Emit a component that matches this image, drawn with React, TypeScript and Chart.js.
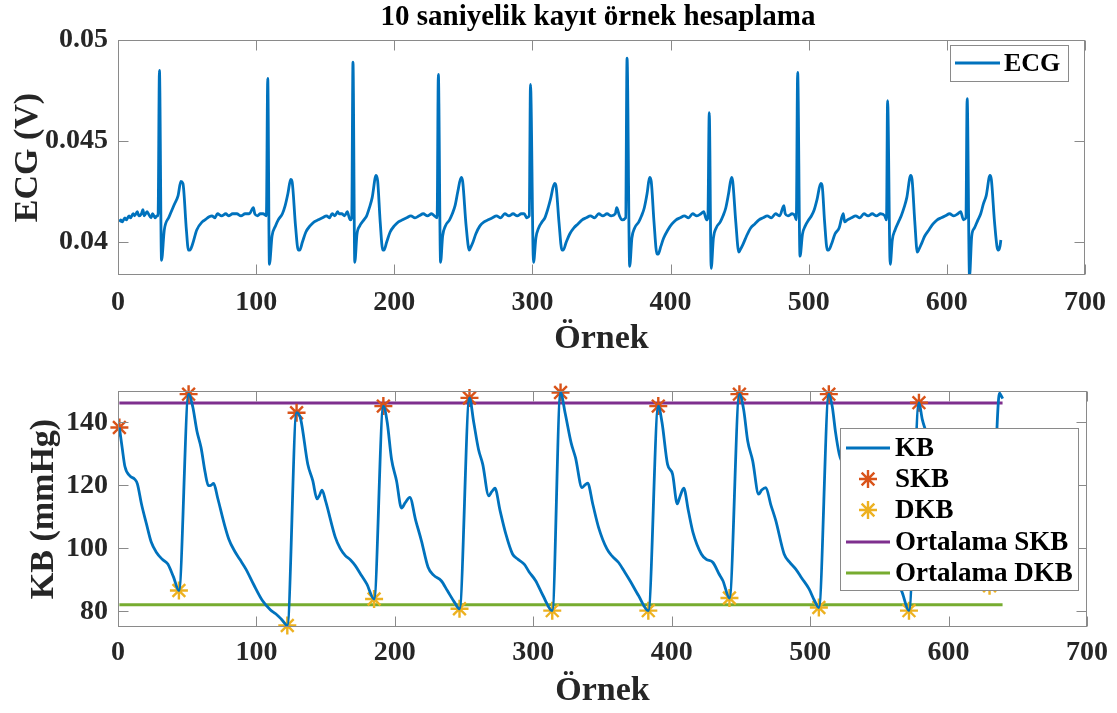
import React, { useEffect, useRef } from "react";
import { Chart, registerables } from "chart.js";

Chart.register(...registerables);

const FONT = "'Liberation Serif', 'Times New Roman', Times, serif";

// ---- text ----
const chartTitle = "10 saniyelik kayıt örnek hesaplama";
const xAxisLabel = "Örnek";
const ecgAxisLabel = "ECG (V)";
const kbAxisLabel = "KB (mmHg)";
const ecgLegend = ["ECG"];
const kbLegend = ["KB", "SKB", "DKB", "Ortalama SKB", "Ortalama DKB"];

// ---- ticks ----
const xTicks = [0, 100, 200, 300, 400, 500, 600, 700];
const ecgTicks = [0.04, 0.045, 0.05];
const kbTicks = [80, 100, 120, 140];

// ---- ECG trace: [sample, volts] ----
const ecgTrace: [number, number][] = [
  [1, 0.041], [2, 0.0411], [3, 0.041], [5, 0.0412], [6, 0.0411], [8, 0.0413], [9, 0.0412], [11, 0.0414],
  [12, 0.0413], [14, 0.0415], [15, 0.0413], [17, 0.0414], [18, 0.0416], [19, 0.0413], [21, 0.0415],
  [22, 0.0414], [24, 0.0412], [25, 0.0414], [27, 0.0412], [28, 0.0413], [29, 0.0413],
  [30, 0.0485], [31.5, 0.0391], [33.5, 0.0406], [37, 0.04125], [41, 0.0419], [43.5, 0.0423], [45.5, 0.043],
  [47, 0.0429], [49.5, 0.0406], [51, 0.0396], [52, 0.0396], [54, 0.0399], [57, 0.0406], [61, 0.041],
  [63, 0.0411], [66, 0.04125], [68, 0.0413], [70, 0.0412], [72, 0.0414], [75, 0.0413], [78, 0.0414],
  [80, 0.0413], [83, 0.0414], [86, 0.0414], [89, 0.0413], [92, 0.0414], [95, 0.0414], [98, 0.0417],
  [99, 0.0414], [101, 0.0413], [103, 0.0414], [105, 0.0414], [107.4, 0.0413],
  [108.4, 0.0481], [109.6, 0.0389], [111.5, 0.0403], [114, 0.0408], [116, 0.0411], [119, 0.0414],
  [121, 0.0418], [123, 0.0424], [125, 0.0431], [126, 0.043], [128.5, 0.0408], [130.5, 0.0396],
  [131.5, 0.0396], [133.5, 0.04], [136, 0.0405], [139, 0.0408], [142, 0.041], [145, 0.0411], [148, 0.0412],
  [151, 0.0413], [153, 0.0412], [155, 0.0414], [157, 0.0413], [159, 0.0415], [160, 0.0414], [162, 0.0414],
  [164, 0.0413], [166, 0.0415], [168, 0.0411], [169.2, 0.0412],
  [170.1, 0.0489], [171.4, 0.039], [173, 0.0404], [175, 0.0408], [178, 0.0411], [180, 0.0413], [182, 0.0417],
  [184, 0.0422], [186.8, 0.0433], [188, 0.043], [189.8, 0.041], [191.7, 0.0396], [192.5, 0.0396],
  [194.5, 0.04], [197, 0.0405], [200, 0.0408], [203, 0.041], [206, 0.0411], [209, 0.0412], [212, 0.0413],
  [215, 0.0412], [218, 0.0413], [221, 0.0414], [224, 0.0413], [227, 0.0414], [229, 0.0413], [231, 0.0412],
  [231.9, 0.0483], [233.5, 0.039], [235, 0.0403], [237, 0.0408], [240, 0.0411], [242, 0.0414], [244, 0.0418],
  [246, 0.0425], [248.4, 0.0432], [249.5, 0.043], [252, 0.0408], [254.3, 0.0396], [255, 0.0397], [257, 0.04],
  [259, 0.0404], [262, 0.0408], [265, 0.041], [268, 0.0411], [271, 0.0412], [274, 0.0413], [277, 0.0412],
  [280, 0.0414], [283, 0.0413], [286, 0.0414], [289, 0.0413], [292, 0.0414], [294, 0.0414], [296, 0.0412],
  [297.7, 0.0413],
  [298.6, 0.0478], [300.8, 0.039], [302.5, 0.0402], [304.5, 0.0407], [307, 0.041], [309, 0.0412],
  [311, 0.0416], [313, 0.0421], [316, 0.0429], [317, 0.0428], [319.2, 0.041], [321.4, 0.0396],
  [322.3, 0.0396], [324.5, 0.04], [327, 0.0404], [330, 0.0407], [333, 0.0409], [336, 0.0411], [339, 0.0412],
  [342, 0.0413], [345, 0.0412], [348, 0.0414], [351, 0.0413], [354, 0.0414], [357, 0.0413], [360, 0.0414],
  [361, 0.0417], [363, 0.0413], [365, 0.0411], [367.5, 0.0412],
  [368.5, 0.0491], [370.4, 0.0388], [372, 0.0402], [374, 0.0407], [377, 0.041], [379, 0.0413], [381, 0.0417],
  [383, 0.0424], [384.8, 0.0432], [386, 0.043], [388, 0.041], [390.2, 0.0394], [391, 0.0394], [393, 0.0398],
  [395, 0.0402], [398, 0.0406], [401, 0.0409], [404, 0.0411], [407, 0.0412], [410, 0.0413], [413, 0.0412],
  [416, 0.0414], [419, 0.0413], [422, 0.0414], [424, 0.0415], [426, 0.0411], [427, 0.0412],
  [428, 0.0464], [429.4, 0.0387], [431, 0.0402], [433, 0.0407], [436, 0.041], [438, 0.0413], [440, 0.0417],
  [442, 0.0424], [444.1, 0.0432], [445, 0.043], [447.2, 0.041], [449.4, 0.0395], [450.3, 0.0396],
  [452.5, 0.0399], [455, 0.0403], [458, 0.0407], [461, 0.0409], [464, 0.0411], [467, 0.0412], [470, 0.0413],
  [473, 0.0412], [476, 0.0414], [479, 0.0413], [482, 0.0418], [483, 0.0414], [485, 0.0413], [488, 0.0414],
  [490, 0.0413], [491, 0.0411],
  [492, 0.0484], [493.7, 0.0393], [495.5, 0.0404], [497.5, 0.0408], [500, 0.0411], [502, 0.0413],
  [504, 0.0416], [506, 0.0421], [508.7, 0.0429], [509.7, 0.0428], [511.5, 0.041], [513.5, 0.0396],
  [514.3, 0.0396], [516.5, 0.0399], [519, 0.0404], [522, 0.0407], [525, 0.0414], [526, 0.041], [528, 0.0411],
  [531, 0.0412], [534, 0.0413], [537, 0.0412], [540, 0.0414], [543, 0.0413], [546, 0.0414], [549, 0.0413],
  [552, 0.0414], [555, 0.0413], [556.3, 0.0411],
  [557.1, 0.047], [559, 0.0389], [560.5, 0.0401], [562.5, 0.0406], [565, 0.041], [567, 0.0413],
  [569, 0.0417], [571, 0.0422], [573.8, 0.0433], [574.8, 0.0431], [576.8, 0.041], [578.6, 0.0395],
  [579.5, 0.0396], [581.5, 0.0399], [584, 0.0403], [587, 0.0406], [590, 0.0409], [593, 0.0411],
  [596, 0.0412], [599, 0.0413], [602, 0.0414], [605, 0.0413], [608, 0.0414], [610, 0.0415], [612, 0.0411],
  [613.8, 0.0412],
  [614.7, 0.0471], [616.4, 0.0383], [618, 0.0403], [620, 0.0407], [622.5, 0.0411], [624.5, 0.0414],
  [626.5, 0.0419], [628.5, 0.0423], [631.2, 0.0433], [632.2, 0.0431], [634.5, 0.041], [636.5, 0.0397],
  [637.5, 0.0396], [638.5, 0.0398], [639.1, 0.0401],
];

// ---- Blood pressure trace: [sample, mmHg] ----
const kbTrace: [number, number][] = [
  [1, 138.4], [3, 132], [5, 126], [8.6, 123], [12, 122], [14, 120.5], [17, 114], [20.6, 107.7], [24, 102],
  [27.8, 98.7], [32, 96.5], [36, 95], [40, 91], [44, 86.6],
  [51, 149], [54, 145], [57, 137.3], [60, 132], [63, 124], [65.3, 119.9], [67, 120], [69.1, 120.6], [72, 116],
  [76.8, 107.7], [80, 103], [84, 99.3], [88, 96.5], [92.4, 93.4], [98, 88.5], [104.3, 83.4], [110, 80.5],
  [113.9, 79.2], [118, 77.5], [122.3, 75.5],
  [129, 143.1], [132, 141], [137.1, 126.7], [140.7, 121.5], [143.8, 115.7], [145.5, 116.8], [147.4, 118.5],
  [150, 115], [157, 103.5], [160.5, 100], [164.2, 97.7], [168, 96.3], [171.4, 94.5], [176, 91.3],
  [179.7, 88.7], [185, 83.9],
  [191.7, 145.2], [194.5, 140], [197.6, 128.3], [201.2, 121.5], [204.8, 112.8], [207.5, 114.5],
  [210.8, 116.2], [215, 109], [219.2, 102.4], [224, 94], [228, 91.5], [233.5, 89.7], [238, 86.5],
  [243, 82.9], [246.7, 80.8],
  [253.9, 147.8], [257, 140], [260.4, 131.5], [263.5, 126.7], [267.8, 116.7], [270, 118], [272.3, 119.1],
  [276, 112], [280.2, 104.5], [285, 98.2], [289, 96.5], [293.4, 95], [297, 92.5], [301.7, 89.7], [307, 85],
  [313.7, 80.2],
  [319.7, 149.5], [323, 143], [327.3, 133.6], [330.5, 128.8], [335.2, 119.3], [337, 120], [339.3, 120.7],
  [343, 114], [347.2, 106.6], [353.2, 99.8], [357, 97.5], [361.6, 95.5], [366, 92.5], [369.9, 89.7],
  [376, 85], [383.1, 80.2],
  [390.3, 145.2], [393, 140], [397, 126.7], [400.6, 123.6], [404, 114.1], [406, 116.5], [408.7, 119.1],
  [412, 112], [415.4, 105], [421.4, 98.2], [425, 96.5], [429.8, 95.5], [434, 92], [437, 89.7], [441.7, 84.2],
  [448.9, 149], [452, 144], [454.9, 134.1], [458.5, 127.8], [462.8, 117.2], [465, 118.5], [468, 119.3],
  [471.5, 114], [475.2, 108.8], [481.2, 98.2], [485, 95.7], [489.6, 93.4], [494, 90.5], [499.2, 87.1],
  [503, 83.5], [506.3, 81.2],
  [513.5, 149], [516, 145], [518.3, 137], [521, 130], [524, 126], [528, 116.5], [530, 118], [533, 119],
  [536, 114], [540, 108], [546, 98.5], [550, 96], [554, 94], [558, 91], [563, 88], [566, 86.5], [571.4, 80.2],
  [578.6, 146.3], [581, 141], [585, 135], [588, 128], [591, 124], [595, 115], [597, 116.5], [600, 117.5],
  [603, 112], [607, 106], [612, 98], [616, 95.5], [620, 93.5], [624, 91], [629.6, 88.1],
  [633.2, 120], [636.8, 149.3], [638, 148.5], [639.1, 147.6],
];

// ---- SKB / DKB detections ----
const skbSamples = [1, 51, 129, 191.7, 253.9, 319.7, 390.3, 448.9, 513.5, 578.6];
const skbValues = [138.4, 149, 143.1, 145.2, 147.8, 149.5, 145.2, 149, 149, 146.3];
const dkbSamples = [44, 122.3, 185, 246.7, 313.7, 383.1, 441.7, 506.3, 571.4, 629.6];
const dkbValues = [86.6, 75.5, 83.9, 80.8, 80.2, 80.2, 84.2, 81.2, 80.2, 88.1];
const meanSKB = 146.2;
const meanDKB = 82.1;
const meanRange = [1, 639];

// ---- colours ----
const BLUE = "#0072BD";
const ORANGE = "#D95319";
const YELLOW = "#EDB120";
const PURPLE = "#7E2F8E";
const GREEN = "#77AC30";
const AXIS = "#8a8a8a";
const TEXT = "#262626";

function drawStar(ctx: CanvasRenderingContext2D, x: number, y: number, r: number, color: string) {
  ctx.save();
  ctx.strokeStyle = color;
  ctx.lineWidth = 2.4;
  ctx.beginPath();
  for (let i = 0; i < 4; i++) {
    const a = (i * Math.PI) / 4;
    ctx.moveTo(x - r * Math.cos(a), y - r * Math.sin(a));
    ctx.lineTo(x + r * Math.cos(a), y + r * Math.sin(a));
  }
  ctx.stroke();
  ctx.restore();
}

const matlabAxes = {
  id: "matlabAxes",
  afterDraw(chart: any, _args: any, opts: any) {
    const { ctx, chartArea: a, scales } = chart;
    ctx.save();
    ctx.strokeStyle = AXIS;
    ctx.lineWidth = 1;
    const L = Math.round(a.left) + 0.5;
    const T = Math.round(a.top) + 0.5;
    const R = Math.round(a.right) - 0.5;
    const B = Math.round(a.bottom) - 0.5;
    ctx.strokeRect(L, T, R - L, B - T);
    const tl = 10;
    ctx.beginPath();
    scales.x.ticks.forEach((t: any) => {
      const px = Math.round(scales.x.getPixelForValue(t.value)) + 0.5;
      ctx.moveTo(px, B);
      ctx.lineTo(px, B - tl);
      ctx.moveTo(px, T);
      ctx.lineTo(px, T + tl);
    });
    scales.y.ticks.forEach((t: any) => {
      const py = Math.round(scales.y.getPixelForValue(t.value)) + 0.5;
      ctx.moveTo(L, py);
      ctx.lineTo(L + tl, py);
      ctx.moveTo(R, py);
      ctx.lineTo(R - tl, py);
    });
    ctx.stroke();

    if (opts.title) {
      ctx.fillStyle = "#000";
      ctx.font = `bold ${opts.title.size}px ${FONT}`;
      ctx.textAlign = "center";
      ctx.textBaseline = "middle";
      ctx.fillText(opts.title.text, opts.title.x, opts.title.y);
    }

    const lg = opts.legend;
    if (lg) {
      ctx.fillStyle = "#fff";
      ctx.fillRect(lg.x, lg.y, lg.w, lg.h);
      ctx.strokeStyle = AXIS;
      ctx.lineWidth = 1;
      ctx.strokeRect(lg.x + 0.5, lg.y + 0.5, lg.w, lg.h);
      lg.items.forEach((it: any, i: number) => {
        const y = lg.rows[i];
        if (it.kind === "line") {
          ctx.strokeStyle = it.color;
          ctx.lineWidth = 3;
          ctx.beginPath();
          ctx.moveTo(lg.lineX1, y);
          ctx.lineTo(lg.lineX2, y);
          ctx.stroke();
        } else {
          drawStar(ctx, (lg.lineX1 + lg.lineX2) / 2, y, 9, it.color);
        }
        ctx.fillStyle = "#000";
        ctx.font = `bold ${lg.size}px ${FONT}`;
        ctx.textAlign = "left";
        ctx.textBaseline = "middle";
        ctx.fillText(it.label, lg.textX, y + 1);
      });
    }
    ctx.restore();
  },
};

const tickFont = { family: FONT, size: 28, weight: "bold" as const };
const labelFont = { family: FONT, size: 34, weight: "bold" as const };

function xScale(height: number, pad: number, titlePad: number) {
  return {
    type: "linear" as const,
    min: 0,
    max: 700,
    afterBuildTicks: (s: any) => {
      s.ticks = xTicks.map((v) => ({ value: v }));
    },
    afterFit: (s: any) => {
      s.height = height;
    },
    grid: { display: false, drawTicks: false },
    border: { display: false },
    ticks: {
      padding: pad,
      font: tickFont,
      color: TEXT,
      maxRotation: 0,
      autoSkip: false,
      callback: (v: any) => String(v),
    },
    title: { display: true, text: xAxisLabel, font: labelFont, color: TEXT, padding: { top: 0, bottom: titlePad } },
  };
}

function yScale(min: number, max: number, ticks: number[], label: string, titlePad: number) {
  return {
    type: "linear" as const,
    min,
    max,
    afterBuildTicks: (s: any) => {
      s.ticks = ticks.map((v) => ({ value: v }));
    },
    afterFit: (s: any) => {
      s.width = 118;
    },
    grid: { display: false, drawTicks: false },
    border: { display: false },
    ticks: { padding: 10, font: tickFont, color: TEXT, autoSkip: false, callback: (v: any) => String(v) },
    title: { display: true, text: label, font: labelFont, color: TEXT, padding: { top: titlePad, bottom: 0 } },
  };
}

export default function App() {
  const topRef = useRef<HTMLCanvasElement>(null);
  const botRef = useRef<HTMLCanvasElement>(null);

  useEffect(() => {
    const c1 = new Chart(topRef.current!, {
      type: "line",
      data: {
        datasets: [
          {
            label: ecgLegend[0],
            data: ecgTrace.map(([x, y]) => ({ x, y })),
            borderColor: BLUE,
            borderWidth: 2.8,
            pointRadius: 0,
            cubicInterpolationMode: "monotone",
          },
        ],
      },
      options: {
        animation: false,
        responsive: false,
        layout: { padding: { top: 40, left: 0, right: 24, bottom: 0 } },
        plugins: {
          legend: { display: false },
          tooltip: { enabled: false },
          matlabAxes: {
            title: { text: chartTitle, x: 598, y: 18, size: 29 },
            legend: {
              x: 950, y: 45, w: 118, h: 36, rows: [63], lineX1: 955, lineX2: 1000, textX: 1004, size: 26,
              items: [{ label: ecgLegend[0], kind: "line", color: BLUE }],
            },
          },
        } as any,
        scales: {
          x: xScale(87, 11, 2),
          y: yScale(0.03837, 0.05, ecgTicks, ecgAxisLabel, 8),
        },
      },
      plugins: [matlabAxes],
    });

    const c2 = new Chart(botRef.current!, {
      type: "line",
      data: {
        datasets: [
          {
            label: kbLegend[0],
            data: kbTrace.map(([x, y]) => ({ x, y })),
            borderColor: BLUE,
            borderWidth: 2.8,
            pointRadius: 0,
            cubicInterpolationMode: "monotone",
          },
          {
            label: kbLegend[1],
            data: skbSamples.map((x, i) => ({ x, y: skbValues[i] })),
            showLine: false,
            pointStyle: "star",
            pointRadius: 9,
            borderWidth: 2.4,
            borderColor: ORANGE,
            backgroundColor: ORANGE,
            clip: false,
          },
          {
            label: kbLegend[2],
            data: dkbSamples.map((x, i) => ({ x, y: dkbValues[i] })),
            showLine: false,
            pointStyle: "star",
            pointRadius: 9,
            borderWidth: 2.4,
            borderColor: YELLOW,
            backgroundColor: YELLOW,
            clip: false,
          },
          {
            label: kbLegend[3],
            data: meanRange.map((x) => ({ x, y: meanSKB })),
            borderColor: PURPLE,
            borderWidth: 3,
            pointRadius: 0,
          },
          {
            label: kbLegend[4],
            data: meanRange.map((x) => ({ x, y: meanDKB })),
            borderColor: GREEN,
            borderWidth: 3,
            pointRadius: 0,
          },
        ],
      },
      options: {
        animation: false,
        responsive: false,
        layout: { padding: { top: 29, left: 0, right: 24, bottom: 0 } },
        plugins: {
          legend: { display: false },
          tooltip: { enabled: false },
          matlabAxes: {
            legend: {
              x: 840, y: 66, w: 238, h: 162, rows: [86, 117, 148, 180, 211], lineX1: 846, lineX2: 890, textX: 895,
              size: 27,
              items: [
                { label: kbLegend[0], kind: "line", color: BLUE },
                { label: kbLegend[1], kind: "star", color: ORANGE },
                { label: kbLegend[2], kind: "star", color: YELLOW },
                { label: kbLegend[3], kind: "line", color: PURPLE },
                { label: kbLegend[4], kind: "line", color: GREEN },
              ],
            },
          },
        } as any,
        scales: {
          x: xScale(86, 9, 1),
          y: yScale(75, 150, kbTicks, kbAxisLabel, 24),
        },
      },
      plugins: [matlabAxes],
    });

    return () => {
      c1.destroy();
      c2.destroy();
    };
  }, []);

  return (
    <div style={{ position: "absolute", left: 0, top: 0, width: 1117, height: 713, background: "#fff" }}>
      <canvas ref={topRef} width={1117} height={362} style={{ position: "absolute", left: 0, top: 0 }} />
      <canvas ref={botRef} width={1117} height={351} style={{ position: "absolute", left: 0, top: 362 }} />
    </div>
  );
}
